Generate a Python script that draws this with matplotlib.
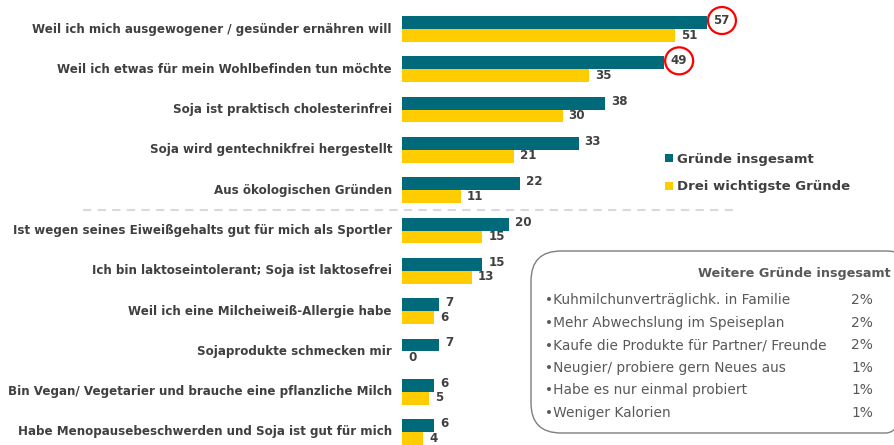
import numpy as np
import matplotlib
matplotlib.use("Agg")
import matplotlib.pyplot as plt
from matplotlib.patches import FancyBboxPatch, Ellipse

categories = [
    "Weil ich mich ausgewogener / gesünder ernähren will",
    "Weil ich etwas für mein Wohlbefinden tun möchte",
    "Soja ist praktisch cholesterinfrei",
    "Soja wird gentechnikfrei hergestellt",
    "Aus ökologischen Gründen",
    "Ist wegen seines Eiweißgehalts gut für mich als Sportler",
    "Ich bin laktoseintolerant; Soja ist laktosefrei",
    "Weil ich eine Milcheiweiß-Allergie habe",
    "Sojaprodukte schmecken mir",
    "Bin Vegan/ Vegetarier und brauche eine pflanzliche Milch",
    "Habe Menopausebeschwerden und Soja ist gut für mich",
]
gesamt = [57, 49, 38, 33, 22, 20, 15, 7, 7, 6, 6]
top3 = [51, 35, 30, 21, 11, 15, 13, 6, 0, 5, 4]
circled = [0, 1]

series_names = ["Gründe insgesamt", "Drei wichtigste Gründe"]

weitere = [
    "Kuhmilchunverträglichk. in Familie",
    "Mehr Abwechslung im Speiseplan",
    "Kaufe die Produkte für Partner/ Freunde",
    "Neugier/ probiere gern Neues aus",
    "Habe es nur einmal probiert",
    "Weniger Kalorien",
]
weitere_pct = [2, 2, 2, 1, 1, 1]

TEAL = "#006A7A"
YELLOW = "#FFCC00"
GREY = "#404040"
BOXGREY = "#595959"

W, H = 895, 445
fig = plt.figure(figsize=(W / 100, H / 100), dpi=100)
ax = fig.add_axes([0, 0, 1, 1])

px = 5.35      # pixels per percent
x0 = 402       # bar origin in px
row0, step = 29, 40.3
ax.set_xlim(-x0 / px, (W - x0) / px)
ax.set_ylim((H - row0) / step, -row0 / step)
ax.axis("off")

y = np.arange(len(categories))
bh = 0.32
ax.barh(y - bh / 2, gesamt, height=bh, color=TEAL, label=series_names[0])
ax.barh(y + bh / 2, top3, height=bh, color=YELLOW, label=series_names[1])

for i, (cat, g, t) in enumerate(zip(categories, gesamt, top3)):
    ax.text(-10 / px, i, cat, ha="right", va="center", fontsize=8.6,
            fontweight="bold", color=GREY)
    ax.text(g + 6 / px, i - bh / 2 - 0.05, str(g), ha="left", va="center",
            fontsize=8.6, fontweight="bold", color=GREY)
    ax.text(t + 6 / px, i + bh / 2 - 0.01, str(t), ha="left", va="center",
            fontsize=8.6, fontweight="bold", color=GREY)
    if i in circled:
        ax.add_patch(Ellipse((g + 15 / px, i - bh / 2 - 0.05), 28 / px, 27 / step,
                             fill=False, ec="red", lw=1.6))

# separator between blocks
ax.plot([-(x0 - 83) / px, (735 - x0) / px], [4.5, 4.5], color="#d9d9d9",
        lw=1.5, ls=(0, (4, 3)))

leg = ax.legend(loc="upper left", bbox_to_anchor=(653 / W, 1 - 141 / H),
                frameon=False, handlelength=0.6, handleheight=0.6,
                handletextpad=0.3, labelspacing=1.1,
                prop={"size": 9.5, "weight": "bold"})
for txt in leg.get_texts():
    txt.set_color(GREY)

# overlay in pixel coordinates for the side box
ov = fig.add_axes([0, 0, 1, 1])
ov.set_xlim(0, W)
ov.set_ylim(H, 0)
ov.axis("off")
ov.add_patch(FancyBboxPatch((531, 251), 385, 182,
                            boxstyle="round,pad=0,rounding_size=30",
                            fill=False, ec="#7f7f7f", lw=1.0))
ov.text(891, 274, "Weitere Gründe insgesamt", ha="right", va="center",
        fontsize=9.2, fontweight="bold", color=BOXGREY)
for k, (lab, p) in enumerate(zip(weitere, weitere_pct)):
    yy = 300 + 22.6 * k
    ov.text(545, yy, "•" + lab, ha="left", va="center", fontsize=9.9,
            color=BOXGREY)
    ov.text(873, yy, f"{p}%", ha="right", va="center", fontsize=9.9,
            color=BOXGREY)

fig.savefig("out.png", dpi=100)
